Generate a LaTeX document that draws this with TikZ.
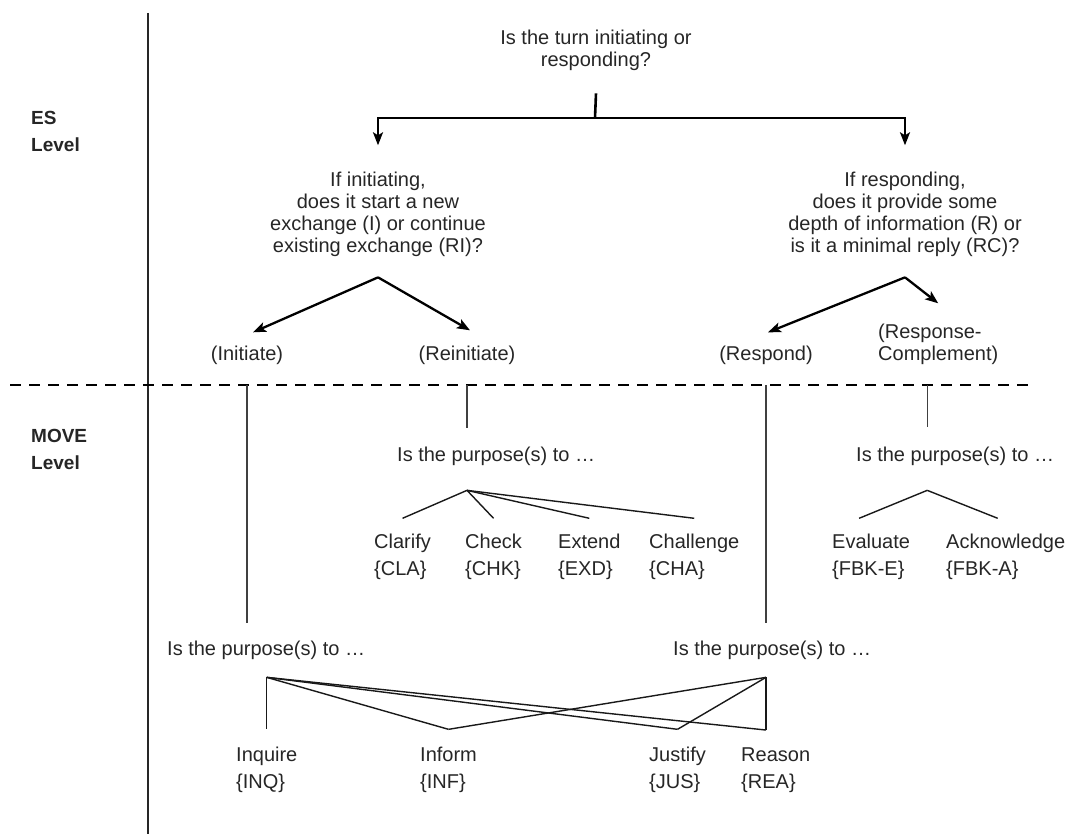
\documentclass[tikz,border=0pt]{standalone}
\usepackage{fontspec}
\setmainfont{Liberation Sans}
\usepackage{tikz}
\usetikzlibrary{arrows.meta}

\begin{document}
\begin{tikzpicture}[x=1pt,y=-1pt,
    txt/.style={font=\fontsize{20}{22}\selectfont, text=black!85, inner sep=0pt, align=center, anchor=base},
    lbl/.style={font=\fontsize{20}{27}\selectfont, text=black!85, inner sep=0pt, align=left, anchor=base west},
    lvl/.style={font=\fontsize{19}{27}\selectfont\bfseries, text=black!85, inner sep=0pt, align=left, anchor=base west},
    esarr/.style={line width=2.3pt, -{Stealth[length=13pt,width=10pt,inset=3pt]}},
    mv/.style={line width=1.2pt, black!75},
    br/.style={line width=1.4pt, black!90}]
    \useasboundingbox (0,0) rectangle (1072,834);
    % Levels
    \node[lvl] (es) at (31,152) {ES\\Level};
    \node[lvl] (mvl) at (31,470) {MOVE\\Level};
    \draw[line width=2pt, black!85] (148,13) -- (148,834);
    \draw[line width=2pt, dash pattern=on 11pt off 8pt] (10,385) -- (1032,385);
    % ES level
    \node[txt] (turn) at (596,67) {Is the turn initiating or\\responding?};
    \node[txt] (iniq) at (378,253) {If initiating,\\does it start a new\\exchange (I) or continue\\existing exchange (RI)?};
    \node[txt] (resq) at (905,253) {If responding,\\does it provide some\\depth of information (R) or\\is it a minimal reply (RC)?};
    \node[txt] (ini) at (247,361) {(Initiate)};
    \node[txt] (rei) at (467,361) {(Reinitiate)};
    \node[txt] (rsp) at (766,361) {(Respond)};
    \node[txt, align=left, anchor=base west] (rc) at (878,361) {(Response-\\Complement)};
    \coordinate (split) at (595,118);
    \draw[line width=2.6pt] ([yshift=-22pt]turn.south) -- (split);
    \draw[esarr] (split) -| ([yshift=27pt]iniq.north);
    \draw[esarr] (split) -| ([yshift=27pt]resq.north);
    \coordinate (fkA) at ([yshift=-20pt]iniq.south);
    \coordinate (fkB) at ([yshift=-20pt]resq.south);
    \draw[esarr] (fkA) -- ([xshift=6pt,yshift=14pt]ini.north);
    \draw[esarr] (fkA) -- ([xshift=3pt,yshift=16pt]rei.north);
    \draw[esarr] (fkB) -- ([xshift=2pt,yshift=14pt]rsp.north);
    \draw[esarr] (fkB) -- ([yshift=21pt]rc.north);
    % MOVE level
    \node[lbl] (pmid) at (397,461) {Is the purpose(s) to …};
    \node[lbl] (prc) at (856,462) {Is the purpose(s) to …};
    \node[lbl] (pi) at (167,655) {Is the purpose(s) to …};
    \node[lbl] (pr) at (673,655) {Is the purpose(s) to …};
    \node[lbl] (cla) at (374,575) {Clarify\\\{CLA\}};
    \node[lbl] (chk) at (465,575) {Check\\\{CHK\}};
    \node[lbl] (exd) at (558,575) {Extend\\\{EXD\}};
    \node[lbl] (cha) at (649,575) {Challenge\\\{CHA\}};
    \node[lbl] (eva) at (832,575) {Evaluate\\\{FBK-E\}};
    \node[lbl] (ack) at (946,575) {Acknowledge\\\{FBK-A\}};
    \node[lbl] (inq) at (236,788) {Inquire\\\{INQ\}};
    \node[lbl] (inf) at (420,788) {Inform\\\{INF\}};
    \node[lbl] (jus) at (649,788) {Justify\\\{JUS\}};
    \node[lbl] (rea) at (741,788) {Reason\\\{REA\}};
    % drops from the dashed line
    \coordinate (rcdrop) at ([xshift=-11pt]rc.south);
    \draw[mv] ([yshift=-20pt]ini.south) -- ([yshift=17pt]pi.north -| ini.south);
    \draw[mv] ([yshift=-20pt]rei.south) -- ([yshift=18pt]pmid.north -| rei.south);
    \draw[mv] ([yshift=-20pt]rsp.south) -- ([yshift=17pt]pr.north -| rsp.south);
    \draw[mv] ([yshift=-20pt]rcdrop) -- ([yshift=20pt]prc.north -| rcdrop);
    % branches
    \coordinate (fkC) at ([yshift=-25pt]pmid.south -| rei.south);
    \coordinate (fkD) at ([yshift=-24pt]prc.south -| rcdrop);
    \coordinate (fkE) at ([yshift=-18pt]pi.south -| inq.north);
    \coordinate (fkF) at ([yshift=-18pt]pr.south -| rsp.south);
    \foreach \n in {cla,chk,exd,cha}
        \draw[br] (fkC) -- ([yshift=15pt]\n.north);
    \draw[br] (fkD) -- ([xshift=-12pt,yshift=15pt]eva.north);
    \draw[br] (fkD) -- ([xshift=-8pt,yshift=15pt]ack.north);
    \draw[br] (fkE) -- ([yshift=17pt]inq.north -| fkE);
    \draw[br] (fkE) -- ([yshift=17pt]rea.north -| fkF);
    \draw[br] (fkF) -- ([yshift=17pt]rea.north -| fkF);
    \foreach \n in {inf,jus} {
        \draw[br] (fkE) -- ([yshift=17pt]\n.north);
        \draw[br] (fkF) -- ([yshift=17pt]\n.north);
    }
\end{tikzpicture}
\end{document}
